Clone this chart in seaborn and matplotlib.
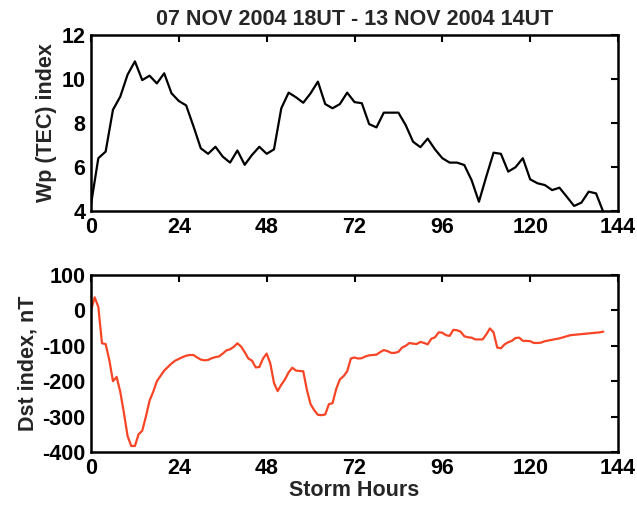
import numpy as np
import pandas as pd
import matplotlib
matplotlib.use("Agg")
import matplotlib.pyplot as plt
import seaborn as sns

# ---- data ----
wp_hours = list(range(0, 142, 2))
wp_values = [4.3, 6.4, 6.7, 8.6, 9.2, 10.2, 10.8, 9.95, 10.15, 9.8,
             10.26, 9.35, 9.0, 8.8, 7.85, 6.85, 6.6, 6.92, 6.47, 6.2,
             6.75, 6.1, 6.55, 6.92, 6.6, 6.8, 8.67, 9.38, 9.17, 8.92,
             9.35, 9.88, 8.86, 8.67, 8.86, 9.38, 8.95, 8.9, 7.95, 7.8,
             8.47, 8.47, 8.47, 7.9, 7.15, 6.9, 7.29, 6.8, 6.4, 6.2,
             6.2, 6.09, 5.4, 4.42, 5.56, 6.65, 6.6, 5.79, 5.99, 6.4,
             5.44, 5.26, 5.18, 4.95, 5.06, 4.65, 4.23, 4.38, 4.88, 4.8,
             3.95]

dst_hours = list(range(0, 141))
dst_values = [0, 37, 10, -93, -95, -140, -200, -188, -230, -290,
              -355, -383, -383, -350, -340, -300, -255, -230, -200, -185,
              -170, -160, -150, -142, -137, -132, -128, -126, -126, -133,
              -139, -141, -140, -135, -132, -130, -122, -113, -110, -103,
              -93, -102, -118, -136, -142, -161, -160, -136, -122, -150,
              -205, -228, -210, -195, -175, -162, -170, -171, -172, -225,
              -265, -282, -295, -296, -294, -265, -262, -222, -195, -186,
              -172, -136, -133, -136, -135, -130, -127, -126, -125, -118,
              -112, -115, -120, -120, -117, -105, -100, -92, -94, -95,
              -89, -92, -96, -80, -76, -62, -63, -70, -72, -55,
              -56, -60, -73, -76, -77, -82, -82, -82, -68, -51,
              -62, -105, -107, -96, -90, -86, -78, -77, -86, -86,
              -87, -92, -92, -91, -87, -85, -83, -81, -79, -76,
              -73, -70, -69, -68, -67, -66, -65, -64, -63, -62,
              -60]

x_ticks = [0, 24, 48, 72, 96, 120, 144]
wp_ticks = [4, 6, 8, 10, 12]
dst_ticks = [-400, -300, -200, -100, 0, 100]

title = "07 NOV 2004 18UT - 13 NOV 2004 14UT"

df_wp = pd.DataFrame({"hour": wp_hours, "wp": wp_values})
df_dst = pd.DataFrame({"hour": dst_hours, "dst": dst_values})

sns.set_style("white")
plt.rcParams["font.family"] = ["Liberation Sans", "DejaVu Sans"]
plt.rcParams["font.weight"] = "bold"

fig = plt.figure(figsize=(6.37, 5.05), dpi=100)
W, H = 637, 505
ax1 = fig.add_axes([91 / W, 1 - 211 / H, 527 / W, 176 / H])
ax2 = fig.add_axes([91 / W, 1 - 452 / H, 527 / W, 177 / H])

sns.lineplot(data=df_wp, x="hour", y="wp", ax=ax1, color="black", linewidth=1.6)
sns.lineplot(data=df_dst, x="hour", y="dst", ax=ax2, color="#f74526", linewidth=1.6)

fs = 15.5
for ax, yt, ylim, ylab in [(ax1, wp_ticks, (4, 12), "Wp (TEC) index"),
                           (ax2, dst_ticks, (-400, 100), "Dst index, nT")]:
    ax.set_xlim(0, 144)
    ax.set_ylim(*ylim)
    ax.set_xticks(x_ticks)
    ax.set_yticks(yt)
    ax.set_xticklabels([str(t) for t in x_ticks], fontsize=fs, fontweight="bold")
    ax.set_yticklabels([str(t) for t in yt], fontsize=fs, fontweight="bold")
    ax.set_ylabel(ylab, fontsize=fs, fontweight="bold", labelpad=3)
    ax.set_xlabel("")
    ax.tick_params(direction="in", length=5, width=1.5, top=True, right=True,
                   pad=4, colors="black")
    for s in ax.spines.values():
        s.set_visible(True)
        s.set_linewidth(1.8)
        s.set_color("black")

ax1.set_title(title, fontsize=fs, fontweight="bold", pad=7)
ax2.set_xlabel("Storm Hours", fontsize=fs, fontweight="bold", labelpad=1)

fig.savefig("out.png", dpi=100)
